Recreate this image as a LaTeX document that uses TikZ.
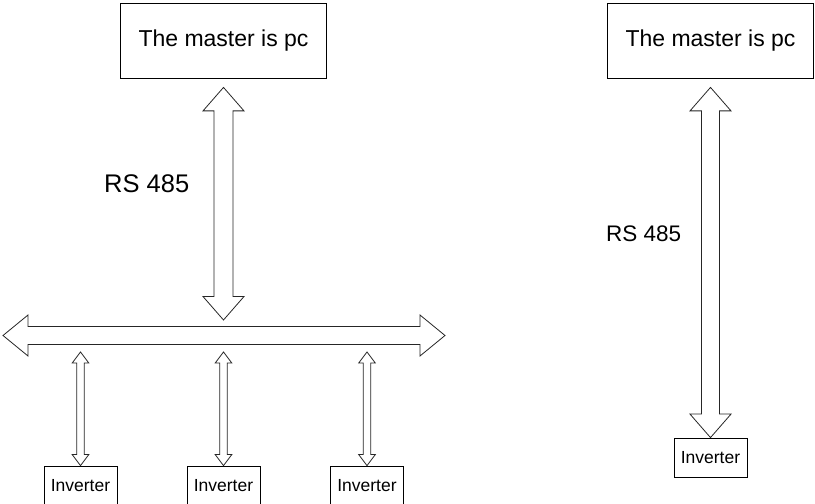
\documentclass[tikz,border=0pt]{standalone}
\usepackage{fontspec}
\setmainfont{Liberation Sans}
\usetikzlibrary{calc}
\tikzset{
  masterbox/.style={draw, line width=0.8pt, minimum width=206pt, minimum height=75pt, inner sep=0pt, font=\fontsize{23}{27}\selectfont},
  invbox/.style={draw, line width=0.8pt, minimum width=73pt, minimum height=40pt, inner sep=0pt, font=\fontsize{17.5}{20}\selectfont},
  fatline/.style={draw=black!85, line width=0.8pt, fill=white, line join=miter}
}
% hollow double arrow between two points: (tip)(tip)(half shaft:half head:head length)
\def\fatarrow(#1)(#2)(#3:#4:#5){\draw[fatline] let \p1=(#1), \p2=(#2), \n1={atan2(\y2-\y1,\x2-\x1)}, \n2={veclen(\x2-\x1,\y2-\y1)} in [shift={(\p1)}, rotate=\n1] (0,0) -- (#5,#4) -- (#5,#3) -- (\n2-#5,#3) -- (\n2-#5,#4) -- (\n2,0) -- (\n2-#5,-#4) -- (\n2-#5,-#3) -- (#5,-#3) -- (#5,-#4) -- cycle;}

\begin{document}
\begin{tikzpicture}[x=1pt,y=1pt]
			%%%%% START %%%%%
			\clip (0,0) rectangle (815,504);
			
			\node[masterbox] (pcA) at (223.5,463.5) {The master is pc};
			\node[masterbox] (pcB) at (710.5,463.5) {The master is pc};
			
			\node[invbox] (invA) at (80.5,18) {Inverter};
			\node[invbox] (invB) at (223.5,18) {Inverter};
			\node[invbox] (invC) at (367,18) {Inverter};
			\node[invbox, minimum height=39pt] (invD) at (710.5,46.5) {Inverter};
			
			\node[anchor=base west, inner sep=0pt, font=\fontsize{25.5}{30}\selectfont] (rsA) at (104,311) {RS 485};
			\node[anchor=base west, inner sep=0pt, font=\fontsize{22.5}{27}\selectfont] (rsB) at (606,262) {RS 485};
			
			% bus and the ends of the arrows
			\coordinate (busW) at (3,168.5);
			\coordinate (busE) at (445,168.5);
			\coordinate (pcAend) at ($(pcA.south)+(0,-9)$);
			\coordinate (pcBend) at ($(pcB.south)+(0,-9)$);
			\coordinate (busTop) at (223.5,184);
			
			\fatarrow(busW)(busE)(9:20.5:25)
			\fatarrow(pcAend)(busTop)(9.5:20.5:23.5)
			\fatarrow(pcBend)(invD.north)(9:20.5:23.5)
			
			\foreach \i/\x in {A/80.5,B/223.5,C/367}{
				\coordinate (tap\i) at (\x,152);
				\fatarrow(tap\i)(inv\i.north)(3.8:8.3:11)
			}
			
			%%%%% END %%%%%
\end{tikzpicture}
\end{document}
